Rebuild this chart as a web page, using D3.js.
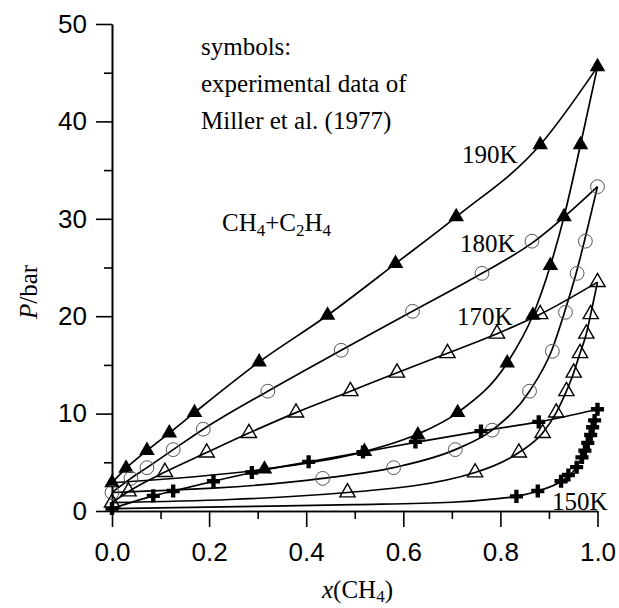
<!DOCTYPE html>
<html>
<head>
<meta charset="utf-8">
<script src="https://cdn.jsdelivr.net/npm/d3@7"></script>
<style>
  body { margin: 0; background: #fff; }
  svg { display: block; }
  .axis path, .axis line { stroke: #000; stroke-width: 1.6; }
  .axis text { font-family: 'Liberation Sans', Arial, sans-serif; font-size: 26px; fill: #000; }
  .lbl { font-family: 'Liberation Serif', 'Times New Roman', serif; font-size: 25px; fill: #000; }
</style>
</head>
<body>
<svg id="chart" width="619" height="608"></svg>
<script>
// x(CH4), P/bar  -- experimental points (symbols)
var exp190Bubble = [[0,2.9],[0.029,4.4],[0.072,6.2],[0.118,8.0],[0.17,10.1],[0.303,15.3],[0.444,20.1],[0.584,25.4],[0.709,30.2],[0.882,37.6],[1.0,45.6]];
var exp190Dew = [[0.314,4.3],[0.52,6.1],[0.63,7.8],[0.712,10.1],[0.814,15.2],[0.867,20.1],[0.903,25.2],[0.931,30.2],[0.965,37.6]];
var exp180Bubble = [[0,1.9],[0.039,3.35],[0.072,4.45],[0.126,6.3],[0.188,8.4],[0.321,12.3],[0.472,16.5],[0.619,20.5],[0.762,24.4],[0.865,27.7],[1.0,33.3]];
var exp180Dew = [[0.434,3.35],[0.58,4.45],[0.707,6.3],[0.783,8.3],[0.86,12.3],[0.907,16.4],[0.934,20.4],[0.958,24.4],[0.975,27.7]];
var exp170Bubble = [[0,0.85],[0.034,2.0],[0.109,4.0],[0.195,6.0],[0.282,8.0],[0.379,10.1],[0.491,12.3],[0.587,14.2],[0.691,16.2],[0.793,18.2],[0.882,20.2],[1.0,23.5]];
var exp170Dew = [[0.485,1.9],[0.748,3.95],[0.838,6.0],[0.887,8.0],[0.915,10.1],[0.936,12.3],[0.951,14.2],[0.964,16.2],[0.977,18.2],[0.986,20.2]];
var exp150Bubble = [[0,0.25],[0.085,1.55],[0.126,2.05],[0.209,3.05],[0.288,3.95],[0.405,5.05],[0.517,6.05],[0.625,7.1],[0.76,8.2],[0.879,9.15],[1.0,10.45]];
var exp150Dew = [[0.833,1.5],[0.877,2.05],[0.925,3.05],[0.94,3.7],[0.957,4.5],[0.968,5.5],[0.974,6.2],[0.98,7.0],[0.986,7.8],[0.99,8.6],[0.994,9.3]];

// calculated curves (lines)
var calc190Bubble = [[0,2.9],[0.029,4.4],[0.072,6.2],[0.118,8.0],[0.17,10.1],[0.303,15.3],[0.444,20.1],[0.584,25.4],[0.709,30.2],[0.882,37.6],[1.0,45.6]];
var calc190Dew = [[0,2.9],[0.314,4.3],[0.52,6.1],[0.63,7.9],[0.712,10.1],[0.814,15.2],[0.867,20.1],[0.903,25.2],[0.931,30.2],[0.965,37.6],[1.0,45.6]];
var calc180Bubble = [[0,1.9],[0.039,3.35],[0.072,4.45],[0.126,6.3],[0.188,8.4],[0.321,12.3],[0.472,16.5],[0.619,20.5],[0.762,24.4],[0.865,27.5],[1.0,33.3]];
var calc180Dew = [[0,1.9],[0.434,3.35],[0.58,4.45],[0.707,6.3],[0.783,8.3],[0.86,12.3],[0.905,16.4],[0.932,20.4],[0.956,24.4],[0.973,27.7],[1.0,33.3]];
var calc170Bubble = [[0,0.85],[0.034,2.0],[0.109,4.0],[0.195,6.0],[0.282,8.0],[0.379,10.1],[0.491,12.3],[0.587,14.2],[0.691,16.2],[0.793,18.2],[0.882,20.2],[1.0,23.5]];
var calc170Dew = [[0,0.85],[0.485,1.9],[0.748,3.95],[0.838,6.0],[0.887,8.0],[0.915,10.1],[0.936,12.3],[0.951,14.2],[0.964,16.2],[0.977,18.2],[0.986,20.2],[1.0,23.5]];
var calc150Bubble = [[0,0.25],[0.085,1.55],[0.126,2.05],[0.209,3.05],[0.288,3.95],[0.405,5.05],[0.517,6.05],[0.625,7.05],[0.76,8.2],[0.879,9.15],[1.0,10.45]];
var calc150Dew = [[0,0.25],[0.26,0.45],[0.5,0.65],[0.7,0.9],[0.8,1.3],[0.833,1.5],[0.877,2.05],[0.925,3.05],[0.957,4.5],[0.974,6.2],[0.986,7.8],[0.994,9.3],[1.0,10.45]];

var xMajor = [0, 0.2, 0.4, 0.6, 0.8, 1.0];
var xMinor = [0.1, 0.3, 0.5, 0.7, 0.9];
var yMajor = [0, 10, 20, 30, 40, 50];
var yMinor = [5, 15, 25, 35, 45];

var svg = d3.select('#chart');
svg.append('rect').attr('width', 619).attr('height', 608).attr('fill', '#fff');

var x = d3.scaleLinear().domain([0, 1]).range([112, 597.5]);
var y = d3.scaleLinear().domain([0, 50]).range([511, 24]);

// axes
svg.append('g').attr('class', 'axis')
    .attr('transform', 'translate(0,' + y(0) + ')')
    .call(d3.axisBottom(x).tickValues(xMinor).tickSize(8).tickSizeOuter(0).tickFormat(''));
svg.append('g').attr('class', 'axis')
    .attr('transform', 'translate(0,' + y(0) + ')')
    .call(d3.axisBottom(x).tickValues(xMajor).tickSize(16).tickSizeOuter(0).tickPadding(16)
        .tickFormat(d3.format('.1f')));
svg.append('g').attr('class', 'axis')
    .attr('transform', 'translate(' + x(0) + ',0)')
    .call(d3.axisLeft(y).tickValues(yMinor).tickSize(8).tickSizeOuter(0).tickFormat(''));
svg.append('g').attr('class', 'axis')
    .attr('transform', 'translate(' + x(0) + ',0)')
    .call(d3.axisLeft(y).tickValues(yMajor).tickSize(16).tickSizeOuter(0).tickPadding(9));

// lines
var line = d3.line()
    .x(function(d) { return x(d[0]); })
    .y(function(d) { return y(d[1]); })
    .curve(d3.curveMonotoneX);

[calc190Bubble, calc190Dew, calc180Bubble, calc180Dew,
 calc170Bubble, calc170Dew, calc150Bubble, calc150Dew].forEach(function(c) {
  svg.append('path')
      .attr('d', line(c))
      .attr('fill', 'none')
      .attr('stroke', '#000')
      .attr('stroke-width', 1.7);
});

// symbols
function drawSymbols(data, type, size, fill, stroke, sw) {
  svg.append('g').selectAll('path')
      .data(data)
      .enter()
      .append('path')
      .attr('transform', function(d) { return 'translate(' + x(d[0]) + ',' + y(d[1]) + ')'; })
      .attr('d', d3.symbol().type(type).size(size))
      .attr('fill', fill)
      .attr('stroke', stroke)
      .attr('stroke-width', sw);
}

drawSymbols(exp190Bubble.concat(exp190Dew), d3.symbolTriangle, 105, '#000', 'none', 0);
drawSymbols(exp180Bubble.concat(exp180Dew), d3.symbolCircle, 150, 'none', '#555', 1);
drawSymbols(exp170Bubble.concat(exp170Dew), d3.symbolTriangle, 100, 'none', '#000', 1.4);
drawSymbols(exp150Bubble.concat(exp150Dew), d3.symbolCross, 95, '#000', 'none', 0);

// texts
function label(tx, ty, s) {
  return svg.append('text').attr('class', 'lbl').attr('x', tx).attr('y', ty).text(s);
}
label(201, 55, 'symbols:');
label(201, 92, 'experimental data of');
label(201, 128.5, 'Miller et al. (1977)');
label(462, 163, '190K');
label(460, 252, '180K');
label(457, 325, '170K');
label(552, 510, '150K');

var mix = svg.append('text').attr('class', 'lbl').attr('x', 222).attr('y', 231);
mix.append('tspan').text('CH');
mix.append('tspan').attr('font-size', 17).attr('dy', 5).text('4');
mix.append('tspan').attr('dy', -5).text('+C');
mix.append('tspan').attr('font-size', 17).attr('dy', 5).text('2');
mix.append('tspan').attr('dy', -5).text('H');
mix.append('tspan').attr('font-size', 17).attr('dy', 5).text('4');

var xt = svg.append('text').attr('class', 'lbl').attr('x', 322).attr('y', 598);
xt.append('tspan').attr('font-style', 'italic').text('x');
xt.append('tspan').text('(CH');
xt.append('tspan').attr('font-size', 17).attr('dy', 4).text('4');
xt.append('tspan').attr('dy', -4).text(')');

var yt = svg.append('text').attr('class', 'lbl')
    .attr('font-size', 26)
    .attr('transform', 'translate(37,292) rotate(-90)')
    .attr('text-anchor', 'middle');
yt.append('tspan').attr('font-style', 'italic').text('P');
yt.append('tspan').text('/bar');
</script>
</body>
</html>
